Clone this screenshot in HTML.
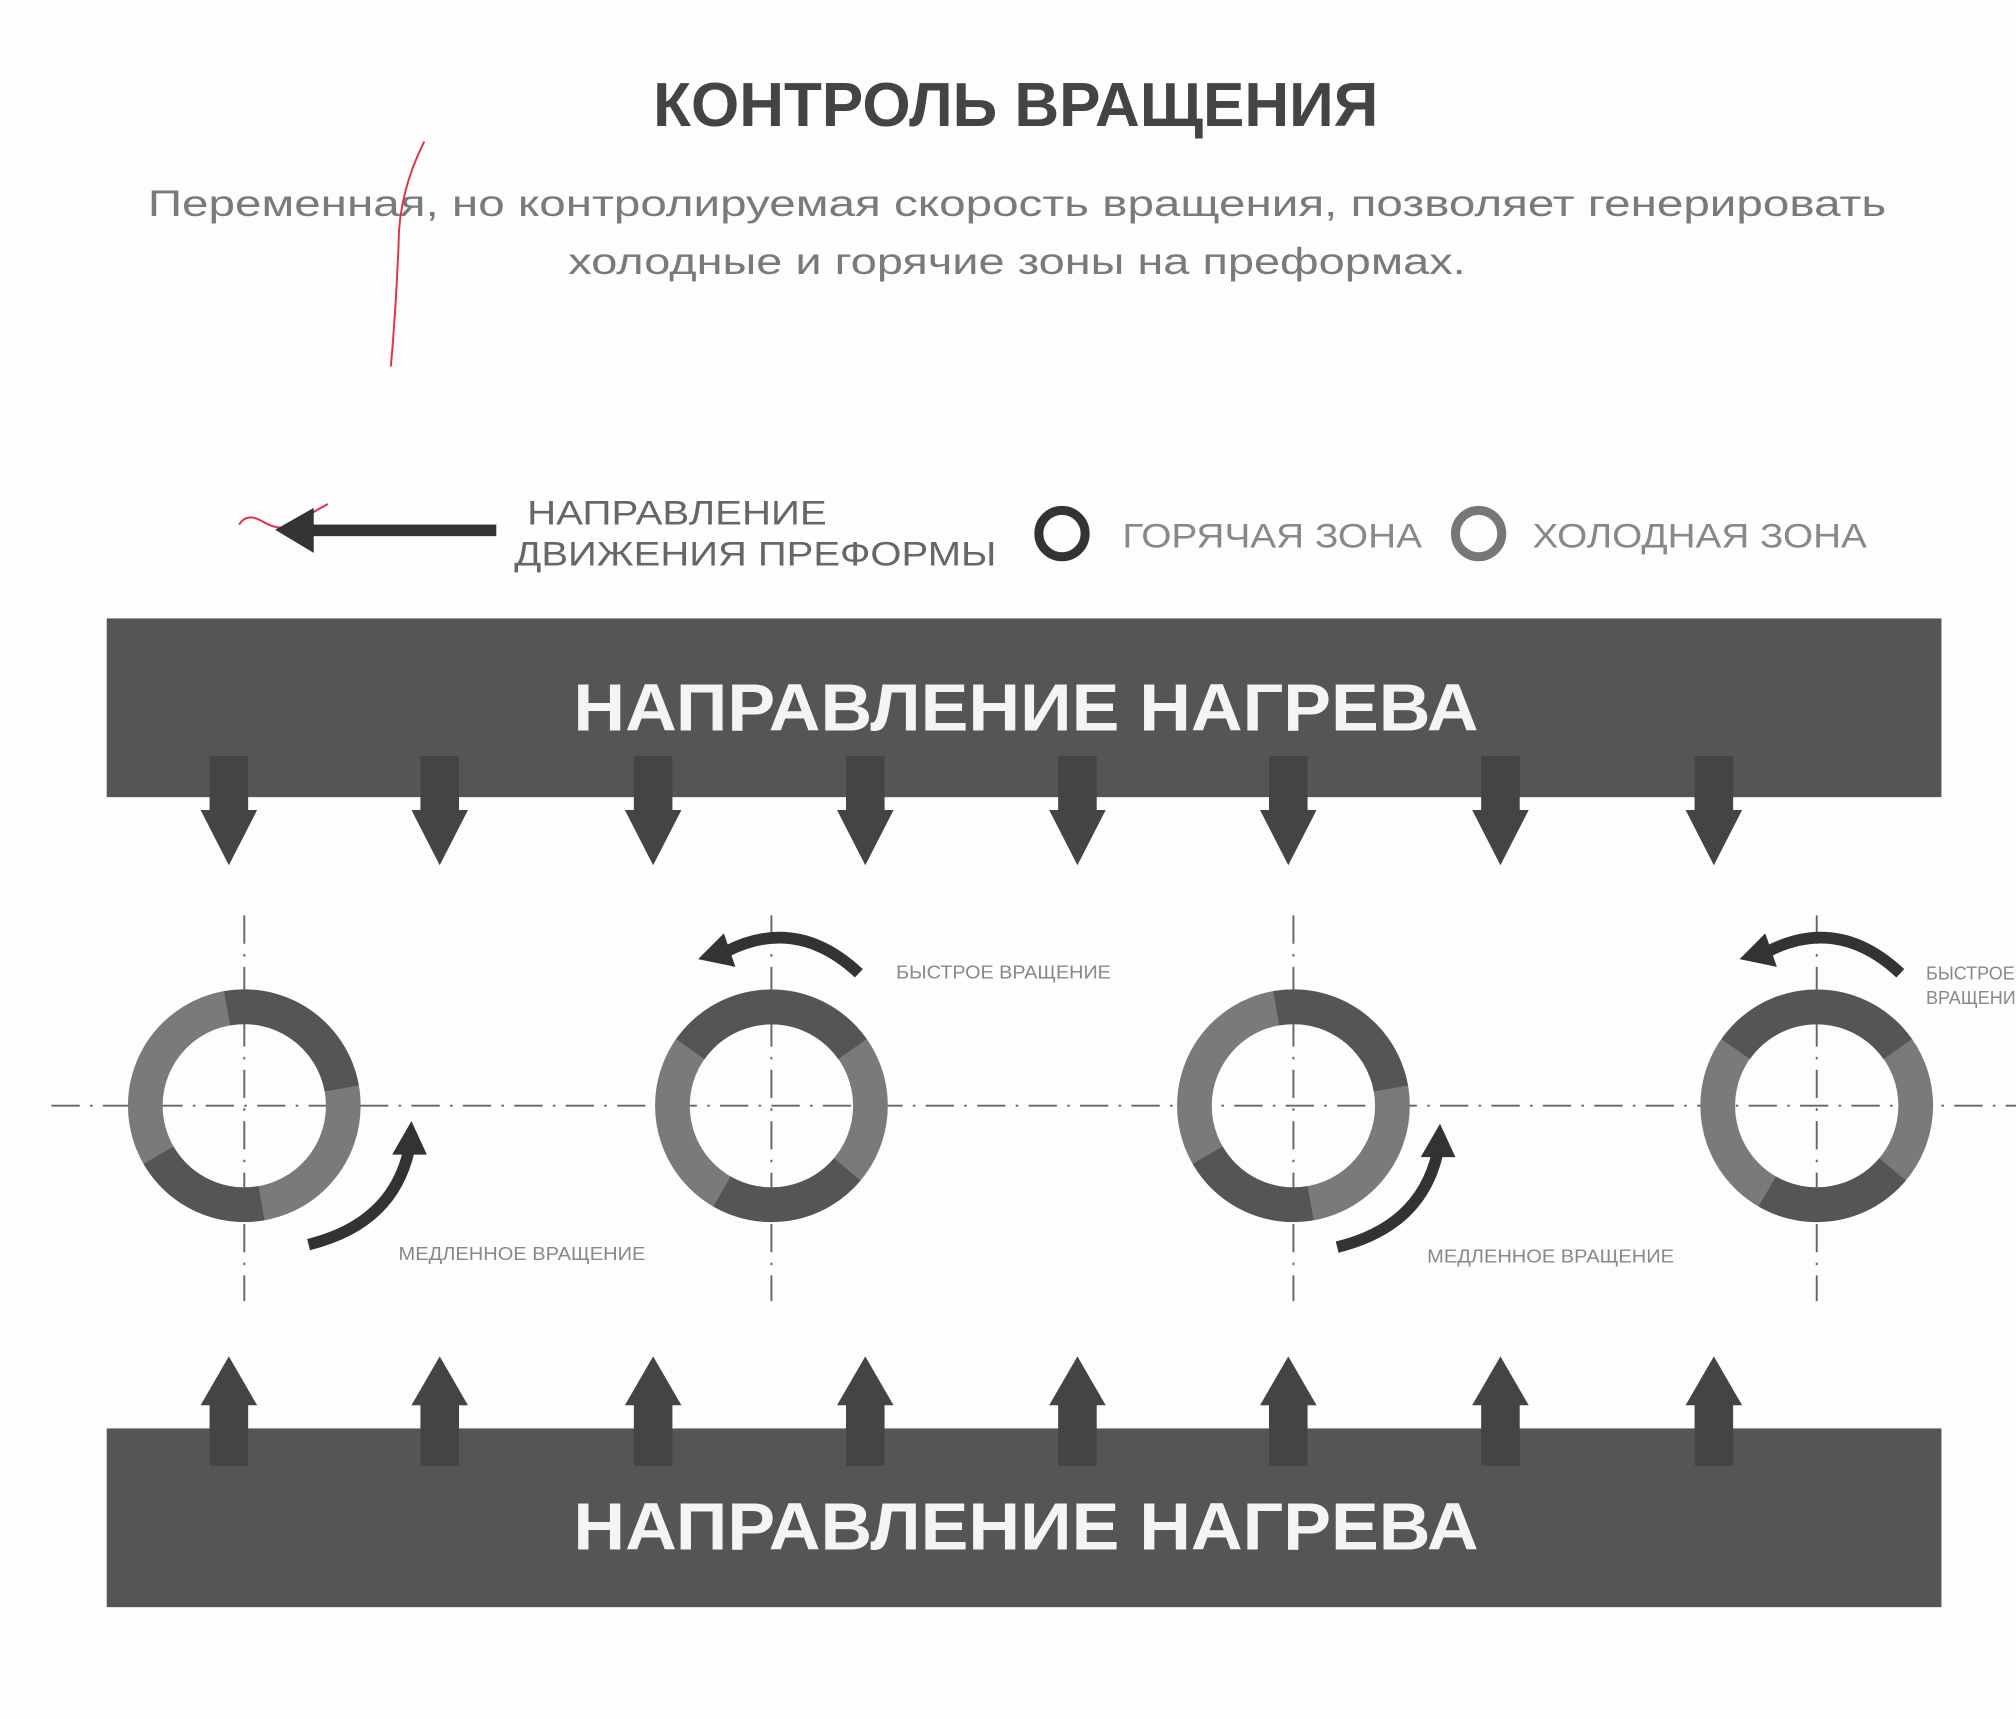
<!DOCTYPE html>
<html><head><meta charset="utf-8"><style>html,body{margin:0;padding:0;background:#fff;}svg{display:block}</style></head>
<body>
<svg width="2016" height="1719" viewBox="0 0 1568 1337" preserveAspectRatio="none" xmlns="http://www.w3.org/2000/svg" font-family="'Liberation Sans','DejaVu Sans',sans-serif">
<defs>
<g id="d" fill="#444"><rect x="-15" y="588" width="30" height="45"/><polygon points="-22,630 22,630 0,673"/></g>
<g id="u" fill="#444"><rect x="-15" y="1090" width="30" height="50"/><polygon points="-22,1093 22,1093 0,1055"/></g>
<g id="ca"><circle r="77" fill="none" stroke="#7a7a7a" stroke-width="27"/>
<path d="M-13.4,-75.8 A77,77 0 0 1 75.8,-13.4" fill="none" stroke="#555" stroke-width="27"/>
<path d="M13.4,75.8 A77,77 0 0 1 -66.7,38.5" fill="none" stroke="#555" stroke-width="27"/></g>
<g id="cb"><circle r="77" fill="none" stroke="#7a7a7a" stroke-width="27"/>
<path d="M-63,-44 A77,77 0 0 1 63,-44" fill="none" stroke="#555" stroke-width="27"/>
<path d="M59,49.5 A77,77 0 0 1 -38.5,66.7" fill="none" stroke="#555" stroke-width="27"/></g>
<g id="slow"><path d="M240,968 Q305,952 318,895" stroke="#333" stroke-width="9" fill="none"/><polygon points="320,872 305,898 332,898" fill="#333"/></g>
<g id="fast"><path d="M668,757 Q620,712 565,740" stroke="#333" stroke-width="9" fill="none"/><polygon points="543,746 563,726 572,752" fill="#333"/></g>
</defs>
<rect width="1568" height="1337" fill="#fdfdfd"/>
<text x="508" y="98" font-size="48" font-weight="bold" fill="#444" textLength="564" lengthAdjust="spacingAndGlyphs">КОНТРОЛЬ ВРАЩЕНИЯ</text>
<text x="115" y="168" font-size="29" fill="#7a7a7a" textLength="1352" lengthAdjust="spacingAndGlyphs">Переменная, но контролируемая скорость вращения, позволяет генерировать</text>
<text x="442" y="213" font-size="29" fill="#7a7a7a" textLength="698" lengthAdjust="spacingAndGlyphs">холодные и горячие зоны на преформах.</text>
<path d="M330,110 Q310,150 310,190 Q308,240 304,285" stroke="#e0304a" stroke-width="1.5" fill="none"/>
<path d="M186,408 Q192,398 205,406 Q215,412 225,410 Q240,400 255,392" stroke="#e0304a" stroke-width="1.5" fill="none"/>
<rect x="238" y="408" width="148" height="9" fill="#333"/>
<polygon points="214,412 244,395 244,430" fill="#333"/>
<text x="410" y="408" font-size="27" fill="#666" textLength="233" lengthAdjust="spacingAndGlyphs">НАПРАВЛЕНИЕ</text>
<text x="400" y="440" font-size="27" fill="#666" textLength="375" lengthAdjust="spacingAndGlyphs">ДВИЖЕНИЯ ПРЕФОРМЫ</text>
<circle cx="826" cy="415" r="18" fill="none" stroke="#333" stroke-width="7"/>
<text x="873" y="426" font-size="27" fill="#888" textLength="233" lengthAdjust="spacingAndGlyphs">ГОРЯЧАЯ ЗОНА</text>
<circle cx="1150" cy="415" r="18" fill="none" stroke="#777" stroke-width="7"/>
<text x="1192" y="426" font-size="27" fill="#888" textLength="260" lengthAdjust="spacingAndGlyphs">ХОЛОДНАЯ ЗОНА</text>
<rect x="83" y="481" width="1427" height="139" fill="#555"/>
<text x="446" y="568" font-size="52" font-weight="bold" fill="#f4f4f4" textLength="704" lengthAdjust="spacingAndGlyphs">НАПРАВЛЕНИЕ НАГРЕВА</text>
<rect x="83" y="1111" width="1427" height="139" fill="#555"/>
<text x="446" y="1205" font-size="52" font-weight="bold" fill="#f4f4f4" textLength="704" lengthAdjust="spacingAndGlyphs">НАПРАВЛЕНИЕ НАГРЕВА</text>
<use href="#d" x="178"/><use href="#d" x="342"/><use href="#d" x="508"/><use href="#d" x="673"/><use href="#d" x="838"/><use href="#d" x="1002"/><use href="#d" x="1167"/><use href="#d" x="1333"/>
<use href="#u" x="178"/><use href="#u" x="342"/><use href="#u" x="508"/><use href="#u" x="673"/><use href="#u" x="838"/><use href="#u" x="1002"/><use href="#u" x="1167"/><use href="#u" x="1333"/>
<g stroke="#666" stroke-width="1.5" stroke-dasharray="22,8,2,8" fill="none">
<line x1="40" y1="860" x2="1568" y2="860"/>
<line x1="190" y1="712" x2="190" y2="1012"/>
<line x1="600" y1="712" x2="600" y2="1012"/>
<line x1="1006" y1="712" x2="1006" y2="1012"/>
<line x1="1413" y1="712" x2="1413" y2="1012"/>
</g>
<use href="#ca" x="190" y="860"/>
<use href="#cb" x="600" y="860"/>
<use href="#ca" x="1006" y="860"/>
<use href="#cb" x="1413" y="860"/>
<use href="#slow"/>
<use href="#slow" x="800" y="2"/>
<use href="#fast"/>
<use href="#fast" x="810"/>
<g fill="#888" font-size="14">
<text x="310" y="980" textLength="192" lengthAdjust="spacingAndGlyphs">МЕДЛЕННОЕ ВРАЩЕНИЕ</text>
<text x="697" y="761" textLength="167" lengthAdjust="spacingAndGlyphs">БЫСТРОЕ ВРАЩЕНИЕ</text>
<text x="1110" y="982" textLength="192" lengthAdjust="spacingAndGlyphs">МЕДЛЕННОЕ ВРАЩЕНИЕ</text>
<text x="1498" y="762">БЫСТРОЕ</text>
<text x="1498" y="781">ВРАЩЕНИЕ</text>
</g>
</svg>
</body></html>
